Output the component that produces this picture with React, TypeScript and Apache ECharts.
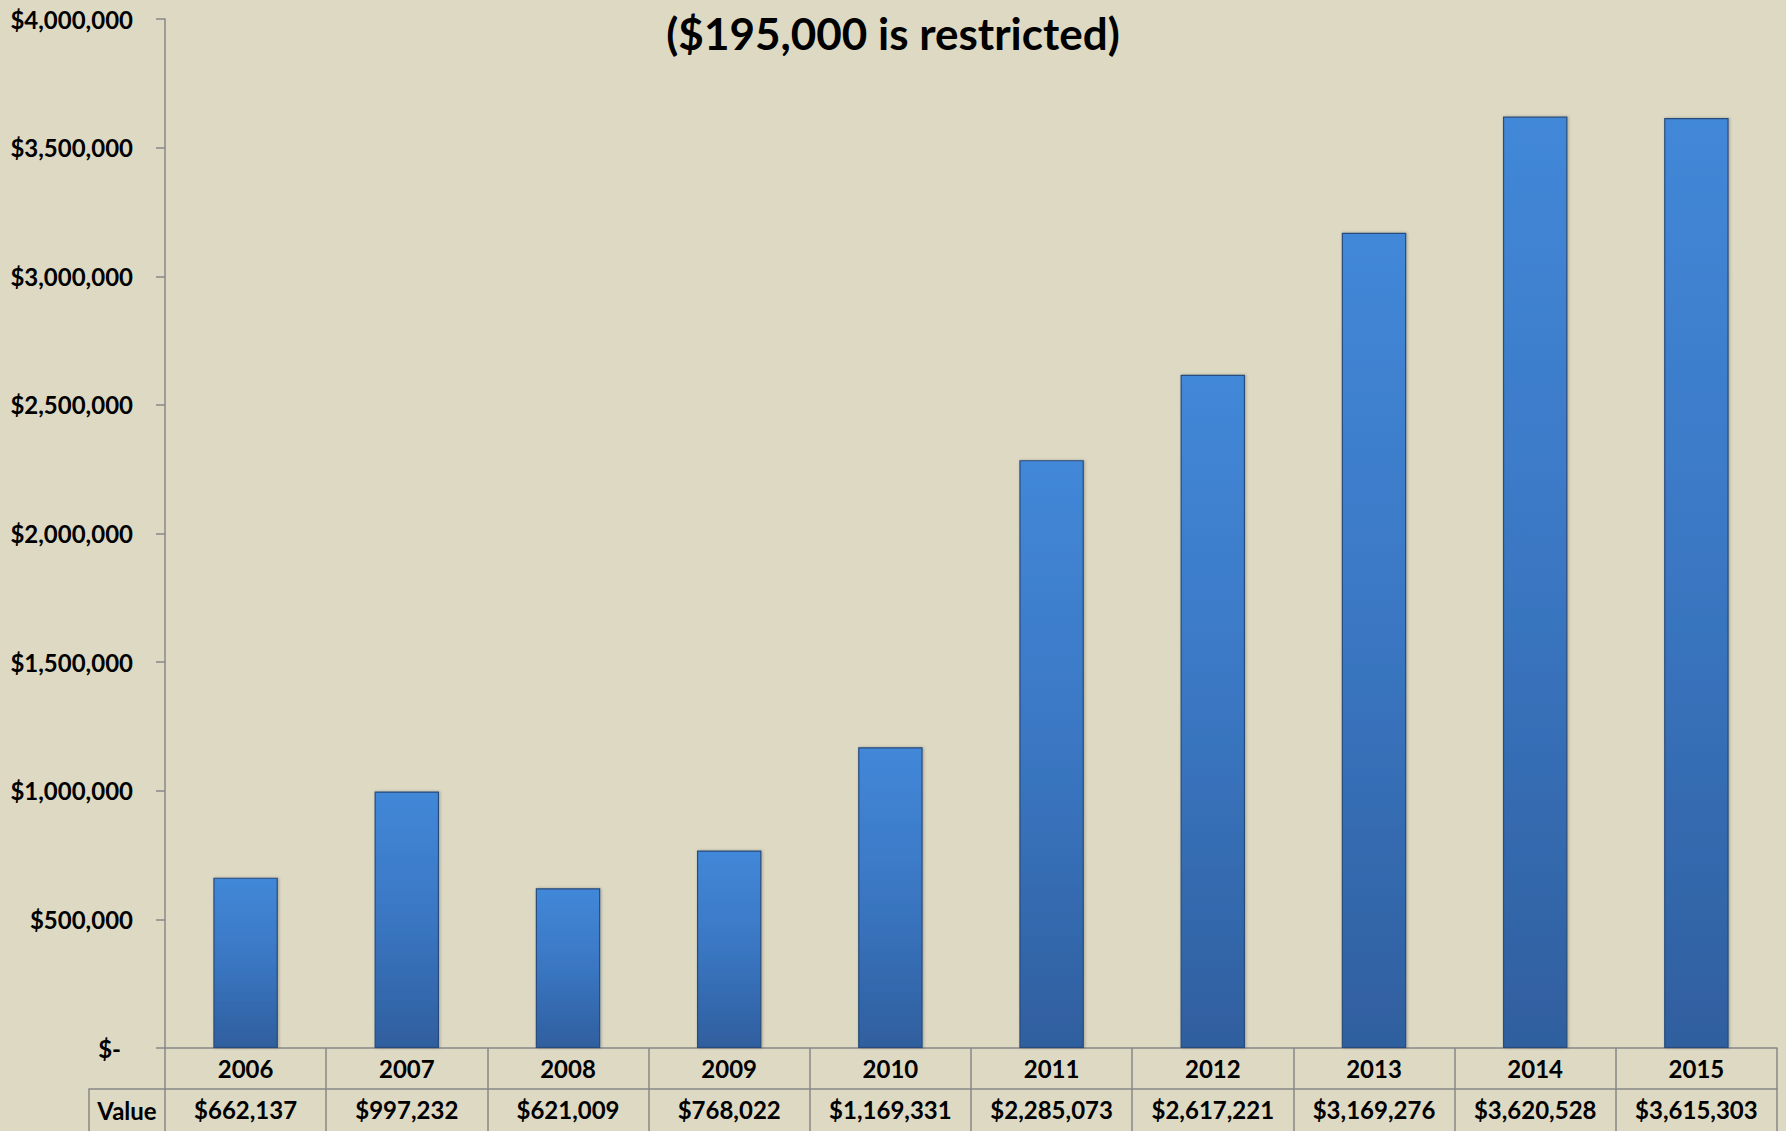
import React, { useEffect, useRef } from "react";
import * as echarts from "echarts";

const years = ["2006", "2007", "2008", "2009", "2010", "2011", "2012", "2013", "2014", "2015"];
const values = [662137, 997232, 621009, 768022, 1169331, 2285073, 2617221, 3169276, 3620528, 3615303];
const yMax = 4000000;
const yStep = 500000;
const titleText = "($195,000 is restricted)";
const rowLabel = "Value";

const W = 1786;
const H = 1131;
const GRID_LEFT = 165;
const GRID_RIGHT = 9;
const GRID_TOP = 19;
const GRID_BOTTOM = 83;
const ROW_H = 41;
const BORDER = "#878787";
const FONT = "Lato, 'Open Sans', sans-serif";
const FS = 24;

function money(v: number): string {
  return "$" + v.toLocaleString("en-US");
}

export default function App() {
  const ref = useRef<HTMLDivElement>(null);
  useEffect(() => {
    if (!ref.current) return;
    const chart = echarts.init(ref.current, undefined, { renderer: "svg" });
    const axisY = H - GRID_BOTTOM;
    const valueCellLeft = 89;
    chart.setOption({
      animation: false,
      backgroundColor: "#DDD9C3",
      textStyle: { fontFamily: FONT },
      title: {
        text: titleText,
        left: "center",
        top: 6,
        textStyle: { fontFamily: FONT, fontSize: 44, fontWeight: "bold", color: "#000" },
      },
      grid: { left: GRID_LEFT, right: GRID_RIGHT, top: GRID_TOP, bottom: GRID_BOTTOM, containLabel: false },
      xAxis: [
        {
          type: "category",
          data: years,
          position: "bottom",
          boundaryGap: true,
          axisLine: { show: true, lineStyle: { color: BORDER, width: 1.5 } },
          axisTick: { show: true, length: ROW_H, interval: 0, lineStyle: { color: BORDER, width: 1.5 } },
          axisLabel: { interval: 0, margin: 8, fontSize: FS, fontWeight: "bold", color: "#000", fontFamily: FONT },
        },
        {
          type: "category",
          data: years,
          position: "bottom",
          offset: ROW_H,
          boundaryGap: true,
          axisLine: { show: true, lineStyle: { color: BORDER, width: 1.5 } },
          axisTick: { show: true, length: 50, interval: 0, lineStyle: { color: BORDER, width: 1.5 } },
          axisLabel: {
            interval: 0,
            margin: 8,
            fontSize: FS,
            fontWeight: "bold",
            color: "#000",
            fontFamily: FONT,
            formatter: (_v: string, i: number) => money(values[i]),
          },
        },
      ],
      yAxis: {
        type: "value",
        min: 0,
        max: yMax,
        interval: yStep,
        axisLine: { show: true, lineStyle: { color: BORDER, width: 1.5 } },
        axisTick: { show: true, length: 9, lineStyle: { color: BORDER, width: 1.5 } },
        splitLine: { show: false },
        axisLabel: {
          margin: 32,
          fontSize: FS,
          fontWeight: "bold",
          color: "#000",
          fontFamily: FONT,
          formatter: (v: number) => (v === 0 ? "{z|$-}" : money(v)),
          rich: {
            z: { fontSize: FS, fontWeight: "bold", color: "#000", fontFamily: FONT, padding: [0, 12, 0, 0] },
          },
        },
      },
      series: [
        {
          type: "bar",
          data: values,
          xAxisIndex: 0,
          barWidth: "40%",
          itemStyle: {
            color: new echarts.graphic.LinearGradient(0, 0, 0, 1, [
              { offset: 0, color: "#4288D8" },
              { offset: 0.5, color: "#3A76C2" },
              { offset: 1, color: "#2F5F9E" },
            ]),
            borderColor: "#284B7C",
            borderWidth: 1.2,
            shadowColor: "rgba(0,0,0,0.25)",
            shadowBlur: 3,
            shadowOffsetX: 1,
            shadowOffsetY: 0,
          },
        },
      ],
      graphic: [
        {
          type: "polyline",
          shape: {
            points: [
              [valueCellLeft, H + 5],
              [valueCellLeft, axisY + ROW_H],
              [GRID_LEFT, axisY + ROW_H],
            ],
          },
          style: { stroke: BORDER, lineWidth: 1.5, fill: "none" },
        },
        {
          type: "text",
          x: (valueCellLeft + GRID_LEFT) / 2,
          y: axisY + ROW_H + ROW_H / 2 + 1,
          style: {
            text: rowLabel,
            fontSize: FS,
            fontWeight: "bold",
            fill: "#000",
            fontFamily: FONT,
            align: "center",
            verticalAlign: "middle",
          },
        },
      ],
    });
    return () => chart.dispose();
  }, []);
  return <div ref={ref} style={{ position: "fixed", left: 0, top: 0, width: W, height: H }} />;
}
